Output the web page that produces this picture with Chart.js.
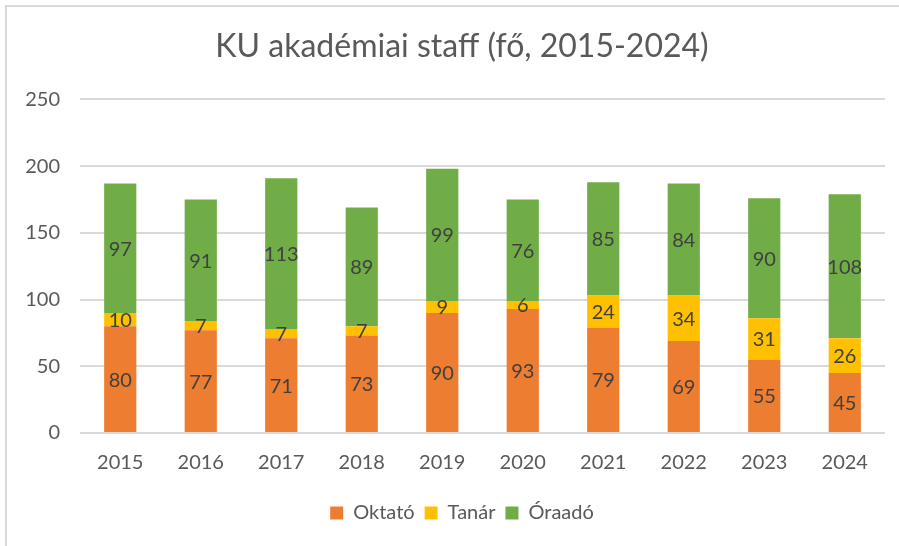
<!DOCTYPE html>
<html>
<head>
<meta charset="utf-8">
<script src="https://cdn.jsdelivr.net/npm/chart.js@4"></script>
<style>
  html, body { margin: 0; padding: 0; background: #fff; }
  #wrap { position: relative; width: 899px; height: 546px; overflow: hidden; }
  #frame { position: absolute; left: 5px; top: 5px; width: 940px; height: 560px;
           border-top: 2px solid #d9d9d9; border-left: 2px solid #d9d9d9; box-sizing: border-box; }
  canvas { position: absolute; left: 0; top: 0; }
</style>
</head>
<body>
<div id="wrap">
  <div id="frame"></div>
  <canvas id="staffChart" width="924" height="546"></canvas>
</div>
<script>
const years = ["2015", "2016", "2017", "2018", "2019", "2020", "2021", "2022", "2023", "2024"];
const oktato = [80, 77, 71, 73, 90, 93, 79, 69, 55, 45];
const tanar = [10, 7, 7, 7, 9, 6, 24, 34, 31, 26];
const oraado = [97, 91, 113, 89, 99, 76, 85, 84, 90, 108];
const yTicks = [0, 50, 100, 150, 200, 250];

const FONT = "Lato, 'Open Sans', sans-serif";

// draws the value in the middle of each bar segment
const barLabels = {
  id: "barLabels",
  afterDatasetsDraw(chart) {
    const ctx = chart.ctx;
    ctx.save();
    ctx.fillStyle = "#404040";
    ctx.font = "20px " + FONT;
    ctx.textAlign = "center";
    ctx.textBaseline = "middle";
    chart.data.datasets.forEach((ds, i) => {
      chart.getDatasetMeta(i).data.forEach((bar, j) => {
        const mid = (bar.y + bar.base) / 2;
        ctx.fillText(String(ds.data[j]), bar.x, mid + 1);
      });
    });
    ctx.restore();
  }
};

// y tick labels drawn by hand so they can sit left of the (narrow) axis box
const yLabels = {
  id: "yLabels",
  afterDraw(chart) {
    const ctx = chart.ctx;
    const y = chart.scales.y;
    ctx.save();
    ctx.fillStyle = "#595959";
    ctx.font = "20px " + FONT;
    ctx.textAlign = "right";
    ctx.textBaseline = "middle";
    yTicks.forEach((v) => {
      ctx.fillText(String(v), y.right - 20, y.getPixelForValue(v));
    });
    ctx.restore();
  }
};

new Chart(document.getElementById("staffChart"), {
  type: "bar",
  data: {
    labels: years,
    datasets: [
      { label: "Oktató", data: oktato, backgroundColor: "#ed7d31" },
      { label: "Tanár", data: tanar, backgroundColor: "#ffc000" },
      { label: "Óraadó", data: oraado, backgroundColor: "#70ad47" }
    ]
  },
  options: {
    responsive: false,
    animation: false,
    layout: { padding: { left: 39, right: 39, top: 26, bottom: 13 } },
    datasets: { bar: { categoryPercentage: 0.4, barPercentage: 1.0 } },
    plugins: {
      title: {
        display: true,
        text: "KU akadémiai staff (fő, 2015-2024)",
        color: "#595959",
        font: { family: FONT, size: 32, weight: "normal" },
        padding: { top: 1, bottom: 34 }
      },
      legend: {
        position: "bottom",
        labels: {
          color: "#595959",
          font: { family: FONT, size: 20 },
          boxWidth: 13,
          boxHeight: 13,
          padding: 10
        }
      },
      tooltip: { enabled: false }
    },
    scales: {
      x: {
        stacked: true,
        ticks: { color: "#595959", font: { family: FONT, size: 20 }, padding: 18 },
        grid: { display: false, drawTicks: false },
        border: { display: false }
      },
      y: {
        stacked: true,
        min: 0,
        max: yTicks[yTicks.length - 1],
        afterBuildTicks: (axis) => { axis.ticks = yTicks.map((v) => ({ value: v })); },
        afterFit: (axis) => { axis.width = 41; },
        ticks: { display: false },
        grid: { color: "#d9d9d9", lineWidth: 2, drawTicks: false },
        border: { display: false }
      }
    }
  },
  plugins: [barLabels, yLabels]
});
</script>
</body>
</html>
